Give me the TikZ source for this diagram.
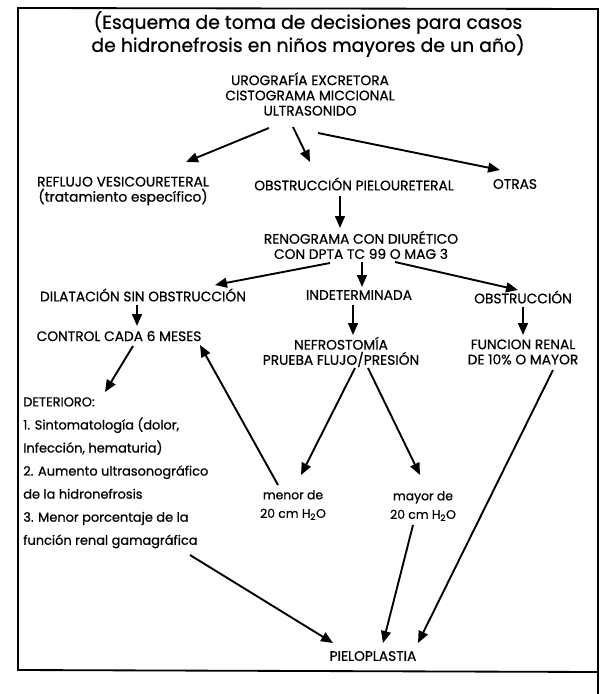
\documentclass[tikz,border=0pt]{standalone}
\usepackage{fontspec}
\setmainfont{Poppins}[FakeBold=0.7]
\usetikzlibrary{arrows.meta,calc}

\tikzset{
  titulo/.style={inner sep=0pt, align=center,
    font=\fontsize{13.4}{16.4}\selectfont},
  caja/.style={inner sep=0pt, align=center,
    font=\fontsize{9.8}{10.8}\selectfont},
  nota/.style={inner sep=0pt, align=center,
    font=\fontsize{8.8}{13.2}\selectfont},
  lista/.style={inner sep=0pt, align=left, anchor=north west,
    font=\fontsize{9.2}{16.4}\selectfont},
  flecha/.style={-{Triangle[length=8.5pt,width=7pt]}, line width=1.35pt},
  marco/.style={line width=1.3pt},
}

\begin{document}
\begin{tikzpicture}[x=0.025cm,y=-0.025cm]
\useasboundingbox (0,0) rectangle (608,694);

%% ── Frame and title ──────────────────────────────────────────────────────
\draw[marco] (598,694) -- (598,9) -- (18,8) -- (18,670) -- (598,672);
\node[titulo] (titulo) at (308,34)
  {(Esquema de toma de decisiones para casos\\de hidronefrosis en niños mayores de un año)};

%% ── Studies and first split ──────────────────────────────────────────────
\node[caja] (uro) at (310,94)
  {UROGRAFÍA EXCRETORA\\CISTOGRAMA MICCIONAL\\ULTRASONIDO};
\node[caja] (reflujo) at (123,191)
  {REFLUJO VESICOURETERAL\\(tratamiento específico)};
\node[caja] (obspiel) at (354,184) {OBSTRUCCIÓN PIELOURETERAL};
\node[caja] (otras) at (515,184) {OTRAS};

%% ── Renogram and its three outcomes ──────────────────────────────────────
\node[caja] (reno) at (361,245)
  {RENOGRAMA CON DIURÉTICO\\CON DPTA TC 99 O MAG 3};
\node[caja] (dilat) at (143,295) {DILATACIÓN SIN OBSTRUCCIÓN};
\node[caja] (indet) at (359,295) {INDETERMINADA};
\node[caja] (obstruc) at (523,297) {OBSTRUCCIÓN};
\node[caja] (control) at (119,336) {CONTROL CADA 6 MESES};
\node[caja] (nefro) at (341,352)
  {NEFROSTOMÍA\\PRUEBA FLUJO/PRESIÓN};
\node[caja] (funcion) at (523,352)
  {FUNCION RENAL\\DE 10\% O MAYOR};

%% ── Deterioration list and pressure results ──────────────────────────────
\node[lista] (deter) at (23,397) {%
  DETERIORO:\\
  1. Sintomatología (dolor,\\
  Infección, hematuria)\\
  2. Aumento ultrasonográfico\\
  de la hidronefrosis\\
  3. Menor porcentaje de la\\
  función renal gamagráfica};
\node[nota] (menor) at (293,505) {menor de\\20 cm H\textsubscript{2}O};
\node[nota] (mayor) at (423,506) {mayor de\\20 cm H\textsubscript{2}O};
\node[caja] (pielo) at (373,656) {PIELOPLASTIA};

%% ── Arrows ───────────────────────────────────────────────────────────────
\draw[flecha] ($(uro)+(-41,34)$) -- ($(reflujo)+(63,-29)$);
\draw[flecha] ($(uro)+(-17,33)$) -- ($(obspiel)+(-44,-22)$);
\draw[flecha] ($(uro)+(8,39)$) -- ($(otras)+(-15,-14)$);
\draw[flecha] ($(obspiel)+(-14,12)$) -- ($(reno)+(-21,-17)$);
\draw[flecha] ($(reno)+(-31,18)$) -- ($(dilat)+(72,-10)$);
\draw[flecha] ($(reno)+(1,17)$) -- ($(indet)+(3,-8)$);
\draw[flecha] ($(reno)+(34,17)$) -- ($(obstruc)+(-5,-7)$);
\draw[flecha] ($(dilat)+(-6,10)$) -- ($(control)+(18,-10)$);
\draw[flecha] ($(indet)+(-6,10)$) -- ($(nefro)+(12,-17)$);
\draw[flecha] ($(obstruc)+(0,10)$) -- ($(funcion)+(0,-17)$);
\draw[flecha] ($(control)+(14,10)$) -- ($(deter.north west)+(82,-5)$);
\draw[flecha] ($(menor)+(-15,-20)$) -- ($(control)+(81,9)$);
\draw[flecha] ($(nefro)+(14,16)$) -- ($(menor)+(8,-30)$);
\draw[flecha] ($(nefro)+(27,16)$) -- ($(mayor)+(-3,-31)$);
\draw[flecha] ($(deter.north west)+(167,158)$) -- ($(pielo)+(-40,-13)$);
\draw[flecha] ($(mayor)+(-10,19)$) -- ($(pielo)+(10,-13)$);
\draw[flecha] ($(funcion)+(30,18)$) -- ($(pielo)+(45,-13)$);

\end{tikzpicture}
\end{document}
